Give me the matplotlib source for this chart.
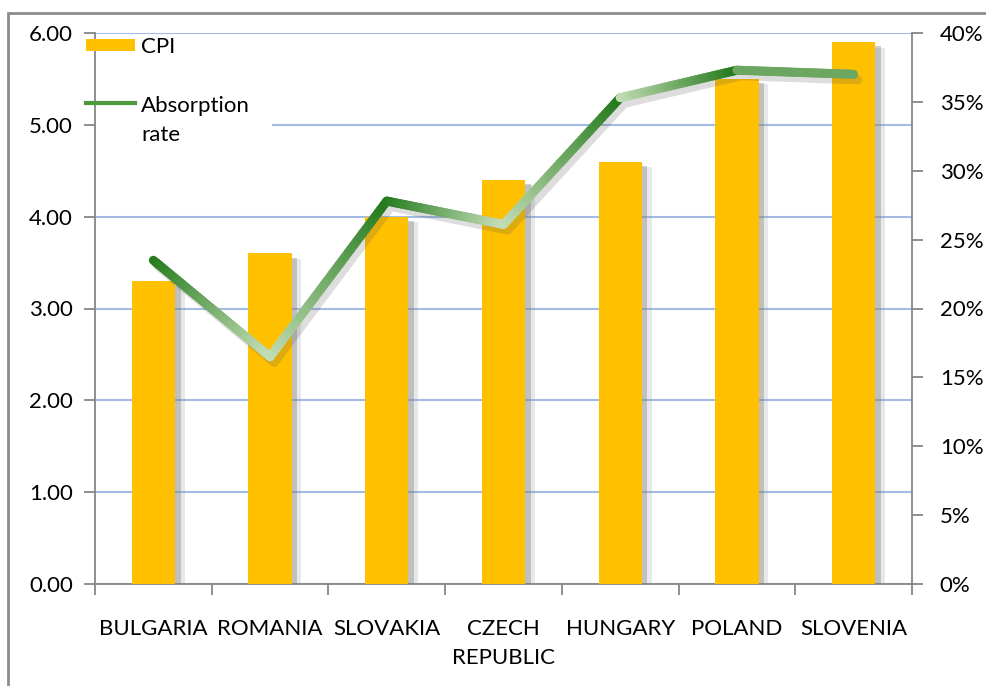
import numpy as np
import matplotlib
matplotlib.use('Agg')
import matplotlib.pyplot as plt
import matplotlib.patheffects as pe
import matplotlib.transforms as mtransforms
from matplotlib.collections import LineCollection
from matplotlib.patches import Patch, Rectangle
from matplotlib.lines import Line2D
from matplotlib.legend_handler import HandlerLine2D
from matplotlib.colors import to_rgb

plt.rcParams['font.family'] = ['Lato', 'DejaVu Sans']

# data
countries = ['BULGARIA', 'ROMANIA', 'SLOVAKIA', 'CZECH\nREPUBLIC', 'HUNGARY', 'POLAND', 'SLOVENIA']
cpi = [3.3, 3.6, 4.0, 4.4, 4.6, 5.5, 5.9]
absorption = [23.5, 16.5, 27.8, 26.1, 35.3, 37.3, 37.0]  # percent

left_ticks = [0, 1, 2, 3, 4, 5, 6]
right_ticks = [0, 5, 10, 15, 20, 25, 30, 35, 40]

bar_color = '#FFC000'
dark_green = np.array(to_rgb('#247A1C'))
light_green = np.array(to_rgb('#D6E9C8'))
axis_gray = '#868686'
grid_blue = '#A3BBE5'
fs = 16


class TopLineHandler(HandlerLine2D):
    # put the legend line next to the first line of a two-line label
    def create_artists(self, legend, orig_handle, xdescent, ydescent, width, height, fontsize, trans):
        arts = super().create_artists(legend, orig_handle, xdescent, ydescent, width, height, fontsize, trans)
        shift = mtransforms.Affine2D().translate(0, 0.85 * fontsize) + trans
        for a in arts:
            a.set_transform(shift)
        return arts


fig = plt.figure(figsize=(9.87, 6.86), dpi=100)
# outer chart frame (partly cut off, like the screenshot)
fig.patches.append(Rectangle((8 / 987, -0.02), 1.0, 1 - 13 / 686 + 0.02, transform=fig.transFigure,
                             fill=False, edgecolor='#8C8C8C', linewidth=2))

ax = fig.add_axes([95 / 987, 1 - 584 / 686, (912 - 95) / 987, (584 - 33) / 686])
x = np.arange(len(countries))

bars = ax.bar(x, cpi, width=0.37, color=bar_color, zorder=3)
for b in bars:
    b.set_path_effects([pe.SimplePatchShadow(offset=(7, -4), shadow_rgbFace='#999999', alpha=0.22),
                        pe.SimplePatchShadow(offset=(4, -3), shadow_rgbFace='#777777', alpha=0.35),
                        pe.Normal()])

ax.set_xlim(-0.5, len(countries) - 0.5)
ax.set_ylim(0, 6)
ax.set_yticks(left_ticks)
ax.set_yticklabels([f'{v:.2f}' for v in left_ticks])
ax.grid(axis='y', color=grid_blue, linewidth=1.5, zorder=0)
ax.set_axisbelow(True)

ax.set_xticks(x)
ax.set_xticklabels(countries, linespacing=1.6)
ax.set_xticks(np.arange(len(countries) + 1) - 0.5, minor=True)
ax.tick_params(axis='x', which='major', length=0, pad=25, labelsize=fs)
ax.tick_params(axis='x', which='minor', length=8, color=axis_gray, width=1.3)
ax.tick_params(axis='y', length=8, color=axis_gray, width=1.3, pad=8, labelsize=fs)

for s in ['top', 'right']:
    ax.spines[s].set_visible(False)
for s in ['left', 'bottom']:
    ax.spines[s].set_color(axis_gray)
    ax.spines[s].set_linewidth(1.3)

# white area behind the legend hides the gridlines there, the spine stays on top
ax.add_patch(Rectangle((96 / 987, 1 - 152 / 686), (272 - 96) / 987, (152 - 36) / 686,
                       transform=fig.transFigure, facecolor='white', edgecolor='none', zorder=1))

ax2 = ax.twinx()
ax2.set_ylim(0, 40)
ax2.set_yticks(right_ticks)
ax2.set_yticklabels([f'{v}%' for v in right_ticks])
ax2.tick_params(axis='y', length=8, color=axis_gray, width=1.3, pad=12, labelsize=fs)
for s in ['top', 'left', 'bottom']:
    ax2.spines[s].set_visible(False)
ax2.spines['right'].set_color(axis_gray)
ax2.spines['right'].set_linewidth(1.3)

# soft shadow under the line
ax2.plot(x, absorption, color='none', linewidth=6.5, solid_capstyle='round', solid_joinstyle='round',
         zorder=4, path_effects=[pe.SimpleLineShadow(offset=(3, -4), shadow_color='#555555', alpha=0.2)])

# gradient line: each segment shaded from dark (top) to light (bottom)
segs, cols = [], []
for i in range(len(absorption) - 1):
    xs = np.linspace(x[i], x[i + 1], 40)
    ys = np.linspace(absorption[i], absorption[i + 1], 40)
    lo, hi = min(absorption[i], absorption[i + 1]), max(absorption[i], absorption[i + 1])
    for j in range(len(xs) - 1):
        ym = (ys[j] + ys[j + 1]) / 2
        t = (ym - lo) / (hi - lo) if hi - lo > 1 else 0.55
        t = 0.1 + 0.9 * t
        segs.append([(xs[j], ys[j]), (xs[j + 1], ys[j + 1])])
        cols.append(light_green + (dark_green - light_green) * t)

lc = LineCollection(segs, colors=cols, linewidths=6.5, capstyle='round', zorder=5)
ax2.add_collection(lc)

cpi_handle = Patch(facecolor=bar_color, edgecolor='none')
abs_handle = Line2D([0], [0], color='#4E9A3A', linewidth=3)
leg = ax.legend([cpi_handle, abs_handle], ['CPI', 'Absorption\nrate'], loc='upper left',
                bbox_to_anchor=(79 / 987, 1 - 30 / 686), bbox_transform=fig.transFigure,
                frameon=False, fontsize=fs, handlelength=2.2, handleheight=0.45, handletextpad=0.3,
                labelspacing=1.75, borderpad=0.3, borderaxespad=0,
                handler_map={abs_handle: TopLineHandler()})
leg.get_texts()[1].set_linespacing(1.6)
leg.set_zorder(4)

plt.savefig('out.png', dpi=100)
plt.close()
